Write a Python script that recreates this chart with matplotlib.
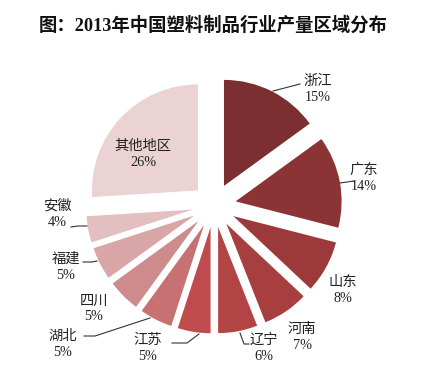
import matplotlib
matplotlib.use("Agg")
import matplotlib.pyplot as plt

# ---- data ----
regions = ["浙江", "广东", "山东", "河南", "辽宁", "江苏", "湖北", "四川", "福建", "安徽", "其他地区"]
shares = [15, 14, 8, 7, 6, 5, 5, 5, 5, 4, 26]
colors = ["#7c2f31", "#8c3435", "#9c3a3b", "#a73f40", "#b34445", "#c04b4c",
          "#c77172", "#ce8b8c", "#d9a6a7", "#e2bfc0", "#ebd3d4"]
title = "图：2013年中国塑料制品行业产量区域分布"

# ---- layout (pixel coords, y from top) ----
W, H = 426, 377
center_px = (214, 205.5)
radius_px = 106
explode_px = 22  # matplotlib's explode is in data units (not scaled by radius)
label_pos = {
    "浙江": (318, 89), "广东": (364, 178), "山东": (343, 290), "河南": (302, 337),
    "辽宁": (264, 348), "江苏": (148, 348), "湖北": (63, 344), "四川": (94, 309),
    "福建": (66, 267), "安徽": (57, 214), "其他地区": (143, 154),
}
leaders = {
    "浙江": [(273, 91), (300, 84)],
    "广东": [(340, 183), (354, 181)],
    "辽宁": [(240, 333), (244, 344), (249, 344)],
    "江苏": [(199, 334), (187, 343), (172, 343)],
    "湖北": [(150, 318), (95, 336), (84, 336)],
    "福建": [(97, 261), (92, 262), (83, 262)],
    "安徽": [(87, 226), (78, 226), (71, 227)],
}

fig = plt.figure(figsize=(W / 100, H / 100), dpi=100)
ax = fig.add_axes([0, 0, 1, 1])
fam = ["Liberation Serif", "Noto Sans CJK SC"]

ax.pie(shares, colors=colors, startangle=90, counterclock=False,
       center=(center_px[0], H - center_px[1]), radius=radius_px,
       explode=[explode_px] * len(shares),
       wedgeprops=dict(linewidth=0))
ax.set_xlim(0, W)
ax.set_ylim(0, H)
ax.set_aspect("equal")
ax.axis("off")

for name, val in zip(regions, shares):
    x, y = label_pos[name]
    ax.text(x, H - y, f"{name}\n{val}%", ha="center", va="center",
            fontsize=10.3, family=fam, color="#222222", linespacing=1.3)
for name, pts in leaders.items():
    ax.plot([p[0] for p in pts], [H - p[1] for p in pts], color="#333333", lw=0.8)

fig.text(0.5, 1 - 26 / H, title, ha="center", va="center", fontsize=13.2,
         fontweight="bold", family=fam, color="#111111")

fig.savefig("out.png", dpi=100)
